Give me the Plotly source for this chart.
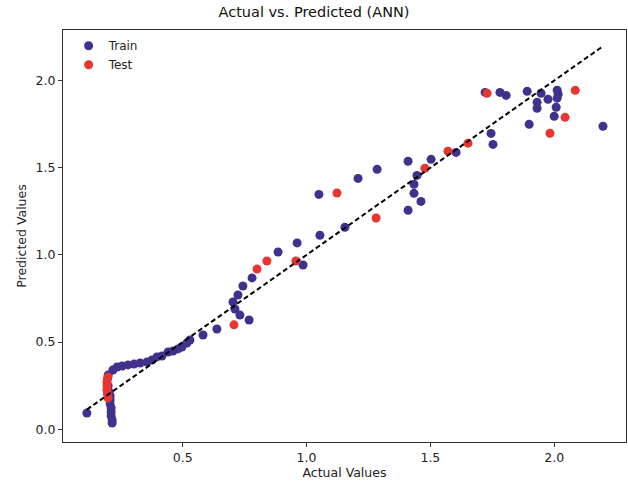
import plotly.graph_objects as go

# Train data (actual, predicted)
train_actual = [0.113, 0.215, 0.215, 0.211, 0.211, 0.211, 0.207, 0.207, 0.207, 0.203, 0.199,
                0.199, 0.218, 0.235, 0.255, 0.279, 0.303, 0.328, 0.356, 0.376, 0.396, 0.416,
                0.441, 0.461, 0.481, 0.497, 0.517, 0.529, 0.582, 0.638,
                0.768, 0.731, 0.711, 0.703, 0.723, 0.743, 0.780, 0.885, 0.962, 0.986,
                1.054, 1.155, 1.050, 1.208, 1.285, 1.410, 1.410, 1.462, 1.434, 1.434,
                1.446, 1.503, 1.604, 1.745, 1.753, 1.721, 1.781, 1.806, 1.891, 1.947,
                1.931, 1.931, 1.975, 2.012, 2.016, 2.012, 2.008, 2.000, 1.899, 2.197]
train_pred = [0.093, 0.036, 0.053, 0.076, 0.099, 0.122, 0.145, 0.168, 0.191, 0.214, 0.249,
              0.311, 0.340, 0.357, 0.363, 0.369, 0.374, 0.380, 0.386, 0.397, 0.415, 0.420,
              0.443, 0.449, 0.461, 0.472, 0.495, 0.512, 0.541, 0.575,
              0.627, 0.655, 0.690, 0.730, 0.770, 0.822, 0.868, 1.017, 1.069, 0.942,
              1.113, 1.159, 1.347, 1.439, 1.491, 1.537, 1.256, 1.307, 1.353, 1.405,
              1.456, 1.548, 1.588, 1.697, 1.634, 1.932, 1.932, 1.915, 1.938, 1.927,
              1.875, 1.841, 1.893, 1.945, 1.922, 1.899, 1.847, 1.795, 1.749, 1.738]

# Test data (actual, predicted)
test_actual = [0.198, 0.196, 0.194, 0.194, 0.194, 0.196, 0.198,
               0.707, 0.800, 0.840, 0.957, 1.123, 1.281, 1.478, 1.571, 1.652,
               1.729, 2.044, 2.085, 1.983]
test_pred = [0.180, 0.203, 0.226, 0.249, 0.272, 0.289, 0.300,
             0.599, 0.919, 0.965, 0.965, 1.355, 1.212, 1.497, 1.595, 1.641,
             1.927, 1.789, 1.944, 1.698]

title_text = "Actual vs. Predicted (ANN)"
x_label = "Actual Values"
y_label = "Predicted Values"

all_vals = train_actual + test_actual
lo, hi = min(all_vals), max(all_vals)

FONT = "DejaVu Sans"
fig = go.Figure()
fig.add_trace(go.Scatter(x=train_actual, y=train_pred, mode="markers", name="Train",
                         marker=dict(color="#41308c", size=9, line=dict(width=0))))
fig.add_trace(go.Scatter(x=test_actual, y=test_pred, mode="markers", name="Test",
                         marker=dict(color="#e8352f", size=9, line=dict(width=0))))
fig.add_trace(go.Scatter(x=[lo, hi], y=[lo, hi], mode="lines", showlegend=False,
                         line=dict(color="black", width=2, dash="5px,3px")))

axis_common = dict(showgrid=False, zeroline=False, showline=True, linecolor="#333333",
                   linewidth=1, mirror=True, ticks="outside", ticklen=4, tickcolor="#333333",
                   tickfont=dict(family=FONT, size=12.5, color="#222222"))

fig.update_layout(
    width=628, height=483,
    margin=dict(l=63, r=2, t=30, b=41, autoexpand=False),
    paper_bgcolor="white", plot_bgcolor="white",
    title=dict(text=title_text, x=0.5, xanchor="center", y=0.975, yanchor="middle",
               font=dict(family=FONT, size=14.5, color="#111111")),
    font=dict(family=FONT, size=12, color="#222222"),
    xaxis=dict(range=[0.0166, 2.290], tickvals=[0.5, 1.0, 1.5, 2.0],
               ticktext=["0.5", "1.0", "1.5", "2.0"],
               title=dict(text=x_label, font=dict(family=FONT, size=12.5), standoff=4),
               automargin=False, **axis_common),
    yaxis=dict(range=[-0.073, 2.290], tickvals=[0.0, 0.5, 1.0, 1.5, 2.0],
               ticktext=["0.0", "0.5", "1.0", "1.5", "2.0"],
               title=dict(text=y_label, font=dict(family=FONT, size=12.5), standoff=6),
               automargin=False, **axis_common),
    legend=dict(x=0.01, y=0.997, xanchor="left", yanchor="top", bgcolor="rgba(255,255,255,0)",
                font=dict(family=FONT, size=12), itemwidth=30, tracegroupgap=0),
    showlegend=True,
)

fig.write_html("out.html", config={"displayModeBar": False},
               post_script="document.body.style.margin='0';document.body.style.padding='0';")
